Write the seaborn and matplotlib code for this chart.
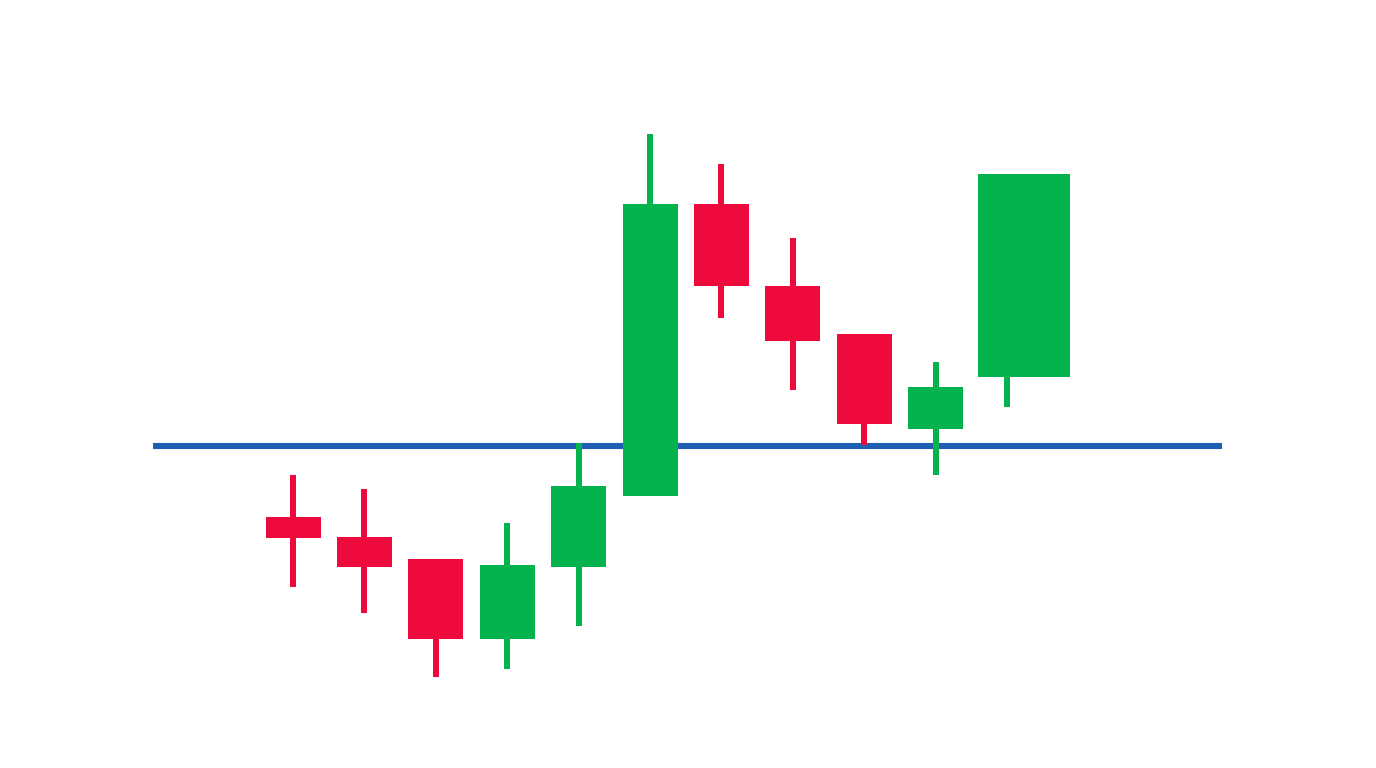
import numpy as np
import pandas as pd
import matplotlib.pyplot as plt
import seaborn as sns

# candle prices (open, close, high, low)
opens = [92.9, 90.9, 88.7, 80.7, 87.9, 95.0, 124.2, 116.0, 111.2, 101.7, 106.9]
closes = [90.8, 87.9, 80.7, 88.1, 96.0, 124.2, 116.0, 110.5, 102.2, 105.9, 127.2]
highs = [97.1, 95.7, 88.7, 92.3, 100.3, 131.2, 128.2, 120.8, 111.2, 108.4, 127.2]
lows = [85.9, 83.3, 76.9, 77.7, 82.0, 95.0, 112.8, 105.6, 100.1, 97.1, 103.9]
support = 100.0

UP = "#05b34e"
DOWN = "#ee0a3c"
LINE = "#1f5fb3"

sns.set_theme(style="white")

df = pd.DataFrame({"open": opens, "close": closes, "high": highs, "low": lows})
df["x"] = np.arange(len(df))
df["color"] = np.where(df["close"] >= df["open"], UP, DOWN)
df["bottom"] = df[["open", "close"]].min(axis=1)
df["height"] = (df["open"] - df["close"]).abs()

# last candle has a wider body, shifted right of its wick
body_w = np.full(len(df), 0.77)
body_off = np.zeros(len(df))
body_w[-1] = 1.29
body_off[-1] = 0.24

fig = plt.figure(figsize=(13.76, 7.68), dpi=100)
ax = fig.add_axes([0, 0, 1, 1])

ax.plot([-1.96, 13.01], [support, support], color=LINE, lw=4.4,
        solid_capstyle="butt", zorder=1)

ax.bar(df["x"], df["high"] - df["low"], bottom=df["low"], width=0.084,
       color=df["color"], linewidth=0, zorder=2)
ax.bar(df["x"] + body_off, df["height"], bottom=df["bottom"], width=body_w,
       color=df["color"], linewidth=0, zorder=3)

ax.set_xlim(-4.104, 15.168)
ax.set_ylim(67.8, 144.6)
ax.axis("off")

fig.savefig("out.png", dpi=100, facecolor="white")
